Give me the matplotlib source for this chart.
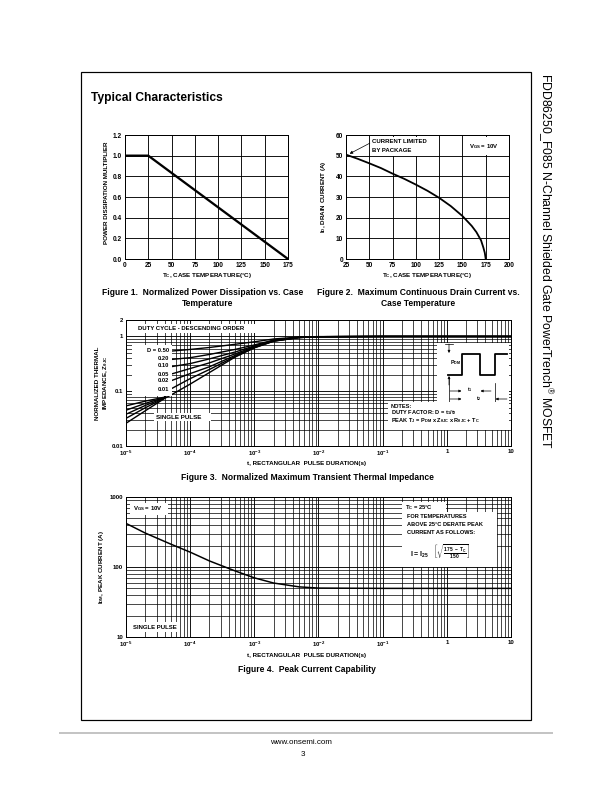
import matplotlib
matplotlib.use("Agg")
import matplotlib.pyplot as plt
import numpy as np
from matplotlib.patches import Rectangle
from matplotlib.lines import Line2D
from matplotlib.ticker import LogLocator, NullFormatter

plt.rcParams["font.family"] = ["Liberation Sans", "DejaVu Sans"]
plt.rcParams["mathtext.fontset"] = "custom"
plt.rcParams["mathtext.rm"] = "Liberation Sans"
plt.rcParams["mathtext.it"] = "Liberation Sans:italic"
plt.rcParams["mathtext.bf"] = "Liberation Sans:bold"
plt.rcParams["mathtext.default"] = "regular"

W, H = 612, 792

# Figure 1: normalized power dissipation vs case temperature
fig1_temp = [0, 25, 175]
fig1_mult = [1.0, 1.0, 0.0]
fig1_xticks = [0, 25, 50, 75, 100, 125, 150, 175]
fig1_yticks = [0.0, 0.2, 0.4, 0.6, 0.8, 1.0, 1.2]

# Figure 2: max continuous drain current vs case temperature
fig2_temp = [25, 37.5, 50, 62.5, 75, 87.5, 100, 112.5, 125, 137.5, 150, 160, 165, 170, 172.5, 174, 175]
fig2_current = [50.5, 48.5, 46.3, 44.0, 41.3, 38.8, 36.0, 33.0, 29.6, 25.6, 20.8, 16.0, 13.0, 9.0, 5.5, 3.0, 0.0]
fig2_xticks = [25, 50, 75, 100, 125, 150, 175, 200]
fig2_yticks = [0, 10, 20, 30, 40, 50, 60]

# Figure 3: transient thermal impedance (nan = hidden behind the label box)
fig3_t = [1e-5, 2e-5, 4e-5, 5e-5, 1e-4, 2e-4, 5e-4, 1e-3, 2e-3, 5e-3, 1e-2, 1e-1, 1, 10]
fig3_z_d050 = [np.nan, np.nan, np.nan, 0.54, 0.58, 0.63, 0.72, 0.80, 0.90, 0.975, 0.995, 1.0, 1.0, 1.0]
fig3_z_d020 = [np.nan, np.nan, np.nan, 0.38, 0.41, 0.47, 0.58, 0.70, 0.86, 0.97, 0.99, 1.0, 1.0, 1.0]
fig3_z_d010 = [0.054, 0.066, 0.078, 0.28, 0.32, 0.39, 0.52, 0.67, 0.85, 0.965, 0.99, 1.0, 1.0, 1.0]
fig3_z_d005 = [0.045, 0.060, 0.077, 0.205, 0.26, 0.33, 0.48, 0.65, 0.84, 0.96, 0.99, 1.0, 1.0, 1.0]
fig3_z_d002 = [0.038, 0.055, 0.076, 0.155, 0.21, 0.28, 0.45, 0.635, 0.83, 0.96, 0.99, 1.0, 1.0, 1.0]
fig3_z_d001 = [0.032, 0.050, 0.075, 0.11, 0.17, 0.25, 0.43, 0.625, 0.825, 0.955, 0.99, 1.0, 1.0, 1.0]
fig3_z_single = [0.026, 0.044, 0.074, 0.085, 0.135, 0.22, 0.42, 0.62, 0.82, 0.955, 0.99, 1.0, 1.0, 1.0]
fig3_duty_labels = ["D = 0.50", "0.20", "0.10", "0.05", "0.02", "0.01"]
log_xticks = [1e-5, 1e-4, 1e-3, 1e-2, 1e-1, 1, 10]
log_xlabels = [r"$\mathbf{10^{-5}}$", r"$\mathbf{10^{-4}}$", r"$\mathbf{10^{-3}}$",
               r"$\mathbf{10^{-2}}$", r"$\mathbf{10^{-1}}$", "1", "10"]
fig3_yticks = [0.01, 0.1, 1, 2]
fig3_ylabels = ["0.01", "0.1", "1", "2"]

# Figure 4: peak current capability
fig4_t = [1e-5, 2e-5, 5e-5, 1e-4, 2e-4, 5e-4, 1e-3, 2e-3, 5e-3, 1e-2, 1e-1, 1, 10]
fig4_idm = [420, 305, 212, 163, 122, 88, 70, 59, 52, 50, 49.5, 49.5, 49.5]
fig4_yticks = [10, 100, 1000]


def add_axes_px(fig, left, top, right, bottom):
    return fig.add_axes([left / W, 1 - bottom / H, (right - left) / W, (bottom - top) / H])


def ftext(fig, x, y, s, **kw):
    kw.setdefault("ha", "center")
    kw.setdefault("va", "center")
    return fig.text(x / W, 1 - y / H, s, **kw)


def frame(ax, size):
    for sp in ax.spines.values():
        sp.set_linewidth(1.0)
        sp.set_color("black")
        sp.set_zorder(5)
    ax.tick_params(which="both", length=0, labelsize=size, pad=3)


def white_box(ax, x0, y0, x1, y1):
    ax.add_patch(Rectangle((x0, y0), x1 - x0, y1 - y0, transform=ax.transAxes,
                           facecolor="white", edgecolor="none", zorder=3))


def box_text(ax, x, y, s, size=5.0, **kw):
    kw.setdefault("ha", "left")
    kw.setdefault("va", "center")
    ax.text(x, y, s, transform=ax.transAxes, fontsize=size, fontweight="bold", zorder=4, **kw)


fig = plt.figure(figsize=(W / 72, H / 72), dpi=72)

# page frame, footer rule, side title
fig.add_artist(Rectangle((81 / W, 1 - 720 / H), 450 / W, 648 / H, transform=fig.transFigure,
                         facecolor="none", edgecolor="black", lw=1.2))
fig.add_artist(Line2D([60 / W, 552 / W], [1 - 733 / H, 1 - 733 / H], transform=fig.transFigure,
                      color="#c4c4c4", lw=2))
ftext(fig, 301, 742, "www.onsemi.com", fontsize=8)
ftext(fig, 303, 754, "3", fontsize=8)
ftext(fig, 545, 73, r"FDD86250_F085 N-Channel Shielded Gate PowerTrench$^{\circledR}$ MOSFET",
      rotation=-90, va="top", fontsize=12.2)
ftext(fig, 91, 98, "Typical Characteristics", ha="left", fontsize=12, fontweight="bold")

CAP = 8.5
LAB = 6.2

# ---- Figure 1
ax1 = add_axes_px(fig, 125, 135, 288, 259)
ax1.plot(fig1_temp, fig1_mult, color="black", lw=2.3, zorder=4)
ax1.set_xlim(0, 175)
ax1.set_ylim(0, 1.2)
ax1.set_xticks(fig1_xticks, [str(v) for v in fig1_xticks], fontweight="bold")
ax1.set_yticks(fig1_yticks, [f"{v:.1f}" for v in fig1_yticks], fontweight="bold")
ax1.grid(True, color="black", lw=0.9)
frame(ax1, 6.5)
ftext(fig, 107, 193, "POWER DISSIPATION MULTIPLIER", rotation=90, fontsize=LAB, fontweight="bold")
ftext(fig, 207, 275, "T$_C$, CASE TEMPERATURE(°C)", fontsize=LAB, fontweight="bold")
ftext(fig, 203, 292, "Figure 1.  Normalized Power Dissipation vs. Case", fontsize=CAP, fontweight="bold")
ftext(fig, 208, 303, "Temperature", fontsize=CAP, fontweight="bold")

# ---- Figure 2
ax2 = add_axes_px(fig, 346, 135, 509, 259)
ax2.plot(fig2_temp, fig2_current, color="black", lw=1.8, zorder=4)
ax2.set_xlim(25, 200)
ax2.set_ylim(0, 60)
ax2.set_xticks(fig2_xticks, [str(v) for v in fig2_xticks], fontweight="bold")
ax2.set_yticks(fig2_yticks, [str(v) for v in fig2_yticks], fontweight="bold")
ax2.grid(True, color="black", lw=0.9)
frame(ax2, 6.5)
white_box(ax2, 0.145, 0.83, 0.56, 0.985)
box_text(ax2, 0.158, 0.948, "CURRENT LIMITED", size=6)
box_text(ax2, 0.158, 0.874, "BY PACKAGE", size=6)
ax2.annotate("", xy=(fig2_temp[0] + 2, fig2_current[0]), xytext=(52.5, 56.5),
             arrowprops=dict(arrowstyle="-|>", color="black", lw=0.7, mutation_scale=6), zorder=4)
white_box(ax2, 0.74, 0.84, 0.99, 0.985)
box_text(ax2, 0.755, 0.91, "V$_{GS}$ = 10V", size=6)
ftext(fig, 323, 197, "I$_D$, DRAIN CURRENT (A)", rotation=90, fontsize=LAB, fontweight="bold")
ftext(fig, 427, 275, "T$_C$, CASE TEMPERATURE(°C)", fontsize=LAB, fontweight="bold")
ftext(fig, 418, 292, "Figure 2.  Maximum Continuous Drain Current vs.", fontsize=CAP, fontweight="bold")
ftext(fig, 418, 303, "Case Temperature", fontsize=CAP, fontweight="bold")


def log_grid(ax):
    ax.set_xscale("log")
    ax.set_yscale("log")
    ax.xaxis.set_minor_locator(LogLocator(base=10, subs=np.arange(2, 10)))
    ax.yaxis.set_minor_locator(LogLocator(base=10, subs=np.arange(2, 10)))
    ax.xaxis.set_minor_formatter(NullFormatter())
    ax.yaxis.set_minor_formatter(NullFormatter())
    ax.grid(True, which="major", color="black", lw=0.9)
    ax.grid(True, which="minor", color="black", lw=0.7)


# ---- Figure 3
ax3 = add_axes_px(fig, 126, 320, 511, 446)
log_grid(ax3)
for z in [fig3_z_d050, fig3_z_d020, fig3_z_d010, fig3_z_d005, fig3_z_d002, fig3_z_d001, fig3_z_single]:
    ax3.plot(fig3_t, z, color="black", lw=1.4, zorder=2)
ax3.set_xlim(1e-5, 10)
ax3.set_ylim(0.01, 2)
ax3.set_xticks(log_xticks, log_xlabels, fontweight="bold")
ax3.set_yticks(fig3_yticks, fig3_ylabels, fontweight="bold")
frame(ax3, 6)
white_box(ax3, 0.02, 0.895, 0.34, 0.965)
box_text(ax3, 0.03, 0.929, "DUTY CYCLE - DESCENDING ORDER", size=6)
white_box(ax3, 0.016, 0.40, 0.119, 0.80)
label_y = [0.754, 0.693, 0.635, 0.571, 0.516, 0.448]
for lab, yy in zip(fig3_duty_labels, label_y):
    box_text(ax3, 0.112, yy, lab, size=5.8, ha="right")
white_box(ax3, 0.072, 0.20, 0.22, 0.26)
box_text(ax3, 0.077, 0.230, "SINGLE PULSE", size=6.3)
white_box(ax3, 0.808, 0.35, 0.995, 0.82)
white_box(ax3, 0.681, 0.125, 0.995, 0.352)
box_text(ax3, 0.688, 0.315, "NOTES:", size=5.6)
box_text(ax3, 0.688, 0.262, "DUTY FACTOR: D = t$_1$/t$_2$", size=5.6)
box_text(ax3, 0.688, 0.200, r"PEAK T$_J$ = P$_{DM}$ x Z$_{\theta JC}$ x R$_{\theta JC}$ + T$_C$", size=5.6)

# pulse sketch (inset in pixel-like units of the notes box)
axp = add_axes_px(fig, 437, 343, 509, 402)
axp.set_xlim(0, 72)
axp.set_ylim(59, 0)
axp.set_axis_off()
axp.patch.set_alpha(0)
axp.plot([11, 25, 25, 43, 43, 58, 58, 70], [32, 32, 11, 11, 32, 32, 11, 11], color="black", lw=1.8)
axp.plot([12, 12], [34, 59], color="black", lw=0.7)
axp.plot([8, 16], [1, 1], color="black", lw=0.7)
arrow = dict(arrowstyle="-|>", color="black", lw=0.7, mutation_scale=5, shrinkA=0, shrinkB=0)
axp.annotate("", xy=(12, 10), xytext=(12, 1), arrowprops=arrow)
axp.annotate("", xy=(12, 33), xytext=(12, 42), arrowprops=arrow)
axp.annotate("", xy=(24.5, 48), xytext=(13, 48), arrowprops=arrow)
axp.annotate("", xy=(43.5, 48), xytext=(54, 48), arrowprops=arrow)
axp.annotate("", xy=(24.5, 56), xytext=(13, 56), arrowprops=arrow)
axp.annotate("", xy=(58.5, 56), xytext=(70, 56), arrowprops=arrow)
axp.plot([58, 58], [40, 59], color="black", lw=0.7)
axp.text(13.5, 20, "P$_{DM}$", fontsize=5.2, fontweight="bold", va="center")
axp.text(33, 47, "t$_1$", fontsize=5.2, fontweight="bold", va="center", ha="center")
axp.text(42, 56, "t$_2$", fontsize=5.2, fontweight="bold", va="center", ha="center")

ftext(fig, 98, 383, "NORMALIZED THERMAL", rotation=90, fontsize=LAB, fontweight="bold")
ftext(fig, 106, 383, r"IMPEDANCE, Z$_{\theta JC}$", rotation=90, fontsize=LAB, fontweight="bold")
ftext(fig, 307, 464, "t, RECTANGULAR  PULSE DURATION(s)", fontsize=LAB, fontweight="bold")
ftext(fig, 307, 477, "Figure 3.  Normalized Maximum Transient Thermal Impedance", fontsize=CAP, fontweight="bold")

# ---- Figure 4
ax4 = add_axes_px(fig, 126, 497, 511, 637)
log_grid(ax4)
ax4.plot(fig4_t, fig4_idm, color="black", lw=1.5, zorder=2)
ax4.set_xlim(1e-5, 10)
ax4.set_ylim(10, 1000)
ax4.set_xticks(log_xticks, log_xlabels, fontweight="bold")
ax4.set_yticks(fig4_yticks, [str(v) for v in fig4_yticks], fontweight="bold")
frame(ax4, 6)
white_box(ax4, 0.01, 0.87, 0.11, 0.96)
box_text(ax4, 0.018, 0.914, "V$_{GS}$ = 10V", size=6)
white_box(ax4, 0.01, 0.035, 0.14, 0.11)
box_text(ax4, 0.018, 0.071, "SINGLE PULSE", size=6)
white_box(ax4, 0.718, 0.893, 0.83, 0.965)
box_text(ax4, 0.725, 0.925, "T$_C$ = 25°C", size=5.8)
white_box(ax4, 0.717, 0.50, 0.964, 0.895)
box_text(ax4, 0.730, 0.864, "FOR TEMPERATURES", size=5.6)
box_text(ax4, 0.730, 0.807, "ABOVE 25°C DERATE PEAK", size=5.6)
box_text(ax4, 0.730, 0.743, "CURRENT AS FOLLOWS:", size=5.6)
box_text(ax4, 0.738, 0.610, r"I = I$_{25}$   $\left[\sqrt{\frac{175\ -\ T_C}{150}}\right]$", size=7)
ftext(fig, 102, 567, "I$_{DM}$, PEAK CURRENT (A)", rotation=90, fontsize=LAB, fontweight="bold")
ftext(fig, 307, 656, "t, RECTANGULAR  PULSE DURATION(s)", fontsize=LAB, fontweight="bold")
ftext(fig, 307, 669, "Figure 4.  Peak Current Capability", fontsize=CAP, fontweight="bold")

fig.savefig("out.png", dpi=72)
